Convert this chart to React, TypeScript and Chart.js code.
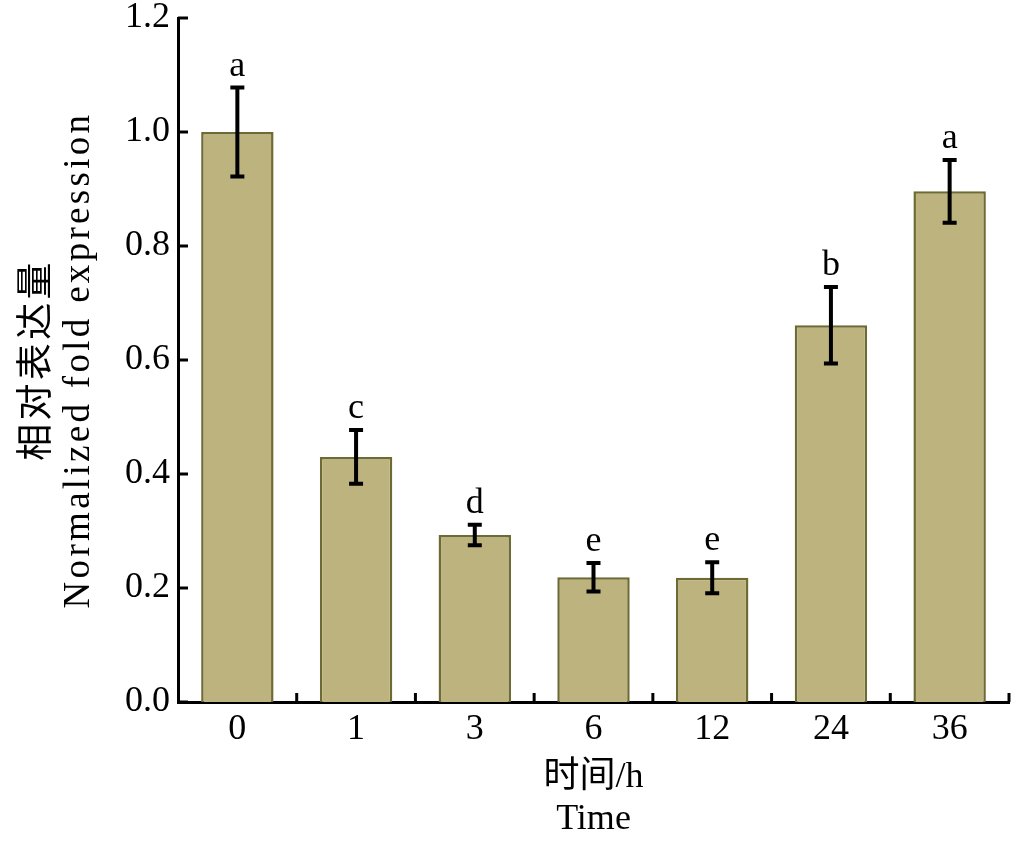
import React, { useEffect, useRef } from 'react';
import { Chart, registerables } from 'chart.js';

Chart.register(...registerables);

const categories = ['0', '1', '3', '6', '12', '24', '36'];
const meanValues = [1.0, 0.43, 0.293, 0.219, 0.218, 0.661, 0.896];
const errorValues = [0.078, 0.047, 0.018, 0.025, 0.027, 0.067, 0.055];
const letterLabels = ['a', 'c', 'd', 'e', 'e', 'b', 'a'];
const yTickValues = [0, 0.2, 0.4, 0.6, 0.8, 1.0, 1.2];
const xTitleLines = ['时间/h', 'Time'];
const yTitleLines = ['相对表达量', 'Normalized fold expression'];

const FONT = "'Liberation Serif', 'Noto Sans CJK SC', serif";

const decorPlugin = {
  id: 'decor',
  afterLayout(chart: any) {
    const ys = chart.scales.y;
    if (ys && !ys.__spaced) {
      const orig = ys.drawTitle.bind(ys);
      ys.drawTitle = function () {
        const ctx = chart.ctx as any;
        ctx.save();
        ctx.letterSpacing = '3.3px';
        orig();
        ctx.restore();
      };
      ys.__spaced = true;
    }
  },
  afterDraw(chart: any) {
    const ctx = chart.ctx as CanvasRenderingContext2D;
    const xs = chart.scales.x;
    const ys = chart.scales.y;
    const meta = chart.getDatasetMeta(0);
    ctx.save();
    ctx.strokeStyle = '#000';
    ctx.fillStyle = '#000';
    ctx.lineCap = 'butt';
    meta.data.forEach((bar: any, i: number) => {
      const cx = bar.x;
      const top = ys.getPixelForValue(meanValues[i] + errorValues[i]);
      const bot = ys.getPixelForValue(meanValues[i] - errorValues[i]);
      ctx.lineWidth = 4;
      ctx.beginPath();
      ctx.moveTo(cx, top);
      ctx.lineTo(cx, bot);
      ctx.stroke();
      ctx.beginPath();
      ctx.moveTo(cx - 7, top);
      ctx.lineTo(cx + 7, top);
      ctx.moveTo(cx - 7, bot);
      ctx.lineTo(cx + 7, bot);
      ctx.stroke();
      ctx.font = `36px ${FONT}`;
      ctx.textAlign = 'center';
      ctx.textBaseline = 'alphabetic';
      ctx.fillText(letterLabels[i], cx, top - 12);
    });
    ctx.lineWidth = 3;
    yTickValues.forEach((v) => {
      const py = ys.getPixelForValue(v);
      ctx.beginPath();
      ctx.moveTo(xs.left, py);
      ctx.lineTo(xs.left + 10, py);
      ctx.stroke();
    });
    for (let i = 1; i <= categories.length; i++) {
      const px = xs.getPixelForValue(i - 0.5);
      ctx.beginPath();
      ctx.moveTo(px, ys.bottom);
      ctx.lineTo(px, ys.bottom - 9);
      ctx.stroke();
    }
    ctx.restore();
  },
};

export default function App() {
  const canvasRef = useRef<HTMLCanvasElement | null>(null);

  useEffect(() => {
    document.body.style.margin = '0';
    document.body.style.overflow = 'hidden';
    const canvas = canvasRef.current;
    if (!canvas) return;
    const chart = new Chart(canvas, {
      type: 'bar',
      data: {
        labels: categories,
        datasets: [
          {
            data: meanValues,
            backgroundColor: '#bdb37f',
            borderColor: '#6d6a33',
            borderWidth: 2.5,
            barPercentage: 0.61,
            categoryPercentage: 1,
          },
        ],
      },
      options: {
        responsive: false,
        animation: false,
        layout: { padding: { top: 18, right: 15, bottom: 0, left: 0 } },
        plugins: {
          legend: { display: false },
          tooltip: { enabled: false },
        },
        scales: {
          x: {
            type: 'category',
            offset: true,
            z: 1,
            grid: { display: false, drawTicks: false, tickLength: 0 },
            border: { display: true, color: '#000', width: 3 },
            ticks: {
              color: '#000',
              font: { family: FONT, size: 36, lineHeight: 1 },
              padding: 10,
              maxRotation: 0,
              autoSkip: false,
            },
            title: {
              display: true,
              text: xTitleLines,
              color: '#000',
              font: { family: FONT, size: 36, lineHeight: 1.17 },
              padding: { top: 0, bottom: 3 },
            },
            afterFit: (s: any) => {
              s.height = 142;
              s.paddingLeft = 0;
              s.paddingRight = 0;
            },
          },
          y: {
            min: 0,
            max: 1.2,
            z: 1,
            grid: { display: false, drawTicks: false, tickLength: 0 },
            border: { display: true, color: '#000', width: 3 },
            ticks: {
              stepSize: 0.2,
              color: '#000',
              font: { family: FONT, size: 36, lineHeight: 1 },
              padding: 8,
              callback: (v: any) => Number(v).toFixed(1),
            },
            title: {
              display: true,
              text: yTitleLines,
              color: '#000',
              font: { family: FONT, size: 37, lineHeight: 1.1 },
              padding: { top: 18, bottom: 0 },
            },
            afterFit: (s: any) => {
              s.width = 178;
              s.paddingTop = 0;
              s.paddingBottom = 0;
            },
          },
        },
      },
      plugins: [decorPlugin],
    } as any);
    return () => {
      chart.destroy();
    };
  }, []);

  return (
    <div style={{ width: 1024, height: 844 }}>
      <canvas ref={canvasRef} width={1024} height={844} />
    </div>
  );
}
